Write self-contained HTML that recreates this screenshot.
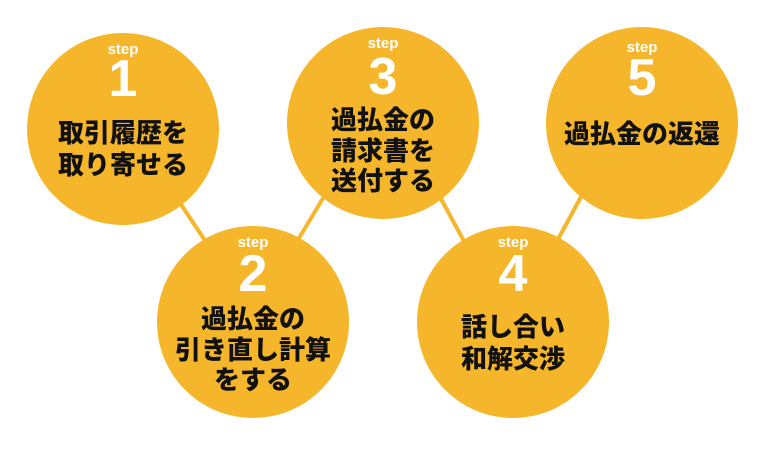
<!DOCTYPE html>
<html><head><meta charset="utf-8"><style>
html,body{margin:0;padding:0;background:#fff;width:770px;height:451px;overflow:hidden}
svg text{font-family:"Liberation Sans","Noto Sans CJK JP",sans-serif;font-weight:bold;text-anchor:middle}
.s{fill:#fff;font-size:15px;font-weight:900}
.n{fill:#fff;font-size:52px;font-weight:900}
.t{fill:#111;font-size:26px;font-weight:900}
</style></head><body>
<svg width="770" height="451" viewBox="0 0 770 451" xmlns="http://www.w3.org/2000/svg">
<g stroke="#F6B62B" stroke-width="4">
<line x1="178" y1="200" x2="208" y2="245"/>
<line x1="296" y1="243" x2="325" y2="195"/>
<line x1="440" y1="197" x2="465" y2="243"/>
<line x1="556" y1="243" x2="582" y2="195"/>
</g>
<g fill="#F6B62B">
<circle cx="123" cy="129" r="96"/>
<circle cx="253" cy="322" r="96"/>
<circle cx="383" cy="123" r="96"/>
<circle cx="513" cy="322" r="96"/>
<circle cx="642" cy="123" r="96"/>
</g>
<text class="s" x="123" y="54">step</text>
<text class="n" x="123" y="96">1</text>
<text class="t" x="123" y="142">取引履歴を</text>
<text class="t" x="123" y="174">取り寄せる</text>

<text class="s" x="383" y="48">step</text>
<text class="n" x="383" y="94">3</text>
<text class="t" x="383" y="129">過払金の</text>
<text class="t" x="383" y="160">請求書を</text>
<text class="t" x="383" y="190">送付する</text>

<text class="s" x="642" y="52">step</text>
<text class="n" x="642" y="95">5</text>
<text class="t" x="642" y="143">過払金の返還</text>

<text class="s" x="253" y="247">step</text>
<text class="n" x="253" y="291">2</text>
<text class="t" x="253" y="328">過払金の</text>
<text class="t" x="253" y="359">引き直し計算</text>
<text class="t" x="253" y="389">をする</text>

<text class="s" x="513" y="247">step</text>
<text class="n" x="513" y="291">4</text>
<text class="t" x="513" y="336">話し合い</text>
<text class="t" x="513" y="368">和解交渉</text>
</svg>
</body></html>
